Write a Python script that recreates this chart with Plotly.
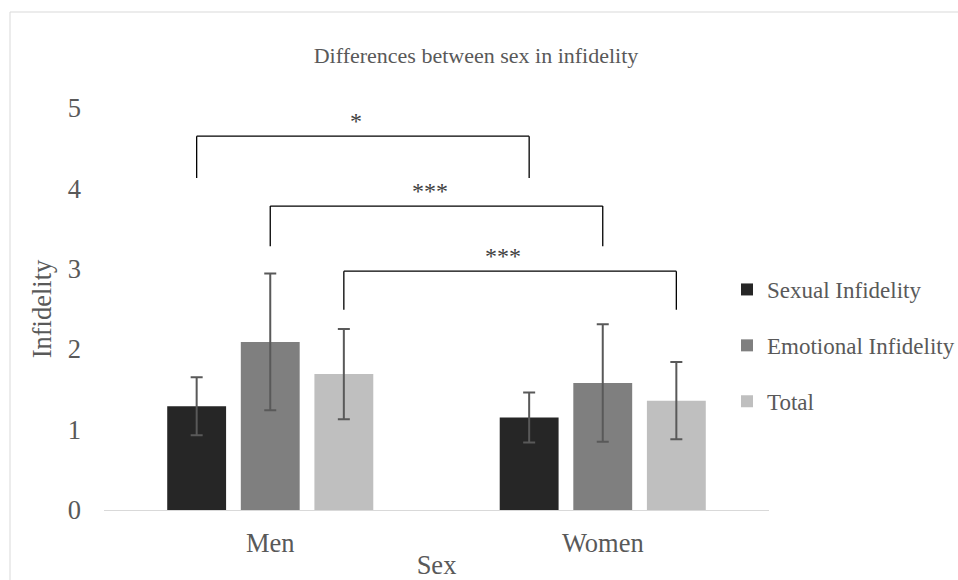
import plotly.graph_objects as go

# ---- data ----
categories = ["Men", "Women"]
series_names = ["Sexual Infidelity", "Emotional Infidelity", "Total"]
sexual = [1.29, 1.15]
sexual_err = [0.36, 0.31]
emotional = [2.09, 1.58]
emotional_err = [0.85, 0.73]
total = [1.69, 1.36]
total_err = [0.56, 0.48]

# significance brackets: series index compared across sexes
bracket_series = [0, 1, 2]
bracket_top = [4.65, 3.78, 2.97]
bracket_bottom = [4.13, 3.28, 2.49]
bracket_labels = ["*", "***", "***"]

y_ticks = [0, 1, 2, 3, 4, 5]

# ---- style ----
colors = ["#262626", "#7f7f7f", "#bfbfbf"]
FONT = "Liberation Serif, Times New Roman, serif"
TXT = "#595959"
BARGAP = 0.336
W, H = 958, 580
ML, MR, MT, MB = 104, 189, 108, 70

values = [sexual, emotional, total]
errors = [sexual_err, emotional_err, total_err]

fig = go.Figure()
for i, name in enumerate(series_names):
    fig.add_trace(go.Bar(
        x=categories, y=values[i], name=name,
        marker=dict(color=colors[i], line=dict(width=0)),
        error_y=dict(type="data", array=errors[i], visible=True,
                     color="#595959", thickness=2, width=6),
        legendgroup=name,
    ))

# bracket positions computed from the bar offsets of the grouped layout
slot = (1 - BARGAP) / len(series_names)
shapes = []
annotations = []
for s, top, bot, lab in zip(bracket_series, bracket_top, bracket_bottom, bracket_labels):
    off = (s - (len(series_names) - 1) / 2) * slot
    xa = 0 + off
    xb = 1 + off
    line = dict(color="#000000", width=1.3)
    shapes.append(dict(type="line", xref="x", yref="y", x0=xa, x1=xa, y0=bot, y1=top, line=line))
    shapes.append(dict(type="line", xref="x", yref="y", x0=xa, x1=xb, y0=top, y1=top, line=line))
    shapes.append(dict(type="line", xref="x", yref="y", x0=xb, x1=xb, y0=top, y1=bot, line=line))
    annotations.append(dict(x=(xa + xb) / 2, y=top, xref="x", yref="y", text=lab,
                            showarrow=False, yanchor="bottom", xshift=-7, yshift=0,
                            font=dict(family=FONT, size=24, color="#404040")))

# outer chart border
pw = W - ML - MR
ph = H - MT - MB
shapes.append(dict(type="rect", xref="paper", yref="paper",
                   x0=(10 - ML) / pw, x1=1.6, y0=-0.5, y1=(H - MB - 12) / ph,
                   line=dict(color="#d9d9d9", width=1), layer="below"))

fig.update_layout(
    width=W, height=H,
    margin=dict(l=ML, r=MR, t=MT, b=MB, autoexpand=False),
    paper_bgcolor="white", plot_bgcolor="white",
    barmode="group", bargap=BARGAP, bargroupgap=0.2,
    font=dict(family=FONT, color=TXT),
    title=dict(text="Differences between sex in infidelity", xref="container", yref="container",
               x=476 / W, y=1 - 55 / H, xanchor="center", yanchor="middle",
               font=dict(family=FONT, size=22, color=TXT)),
    xaxis=dict(showline=True, linecolor="#d9d9d9", linewidth=1, showgrid=False,
               zeroline=False, ticks="", ticklabelstandoff=9,
               tickfont=dict(family=FONT, size=26.5, color=TXT),
               title=dict(text="Sex", standoff=12, font=dict(family=FONT, size=26.5, color=TXT))),
    yaxis=dict(range=[0, 5], tickvals=y_ticks, showgrid=False, zeroline=False, showline=False,
               ticks="", ticklabelstandoff=22,
               tickfont=dict(family=FONT, size=26.5, color=TXT),
               title=dict(text="Infidelity", standoff=8, font=dict(family=FONT, size=26.5, color=TXT))),
    legend=dict(x=(727 - ML) / pw, xanchor="left", y=(H - MB - 268) / ph, yanchor="top",
                font=dict(family=FONT, size=23, color=TXT), tracegroupgap=23,
                bgcolor="rgba(0,0,0,0)"),
    shapes=shapes, annotations=annotations,
    showlegend=True,
)

fig.write_html("out.html")
